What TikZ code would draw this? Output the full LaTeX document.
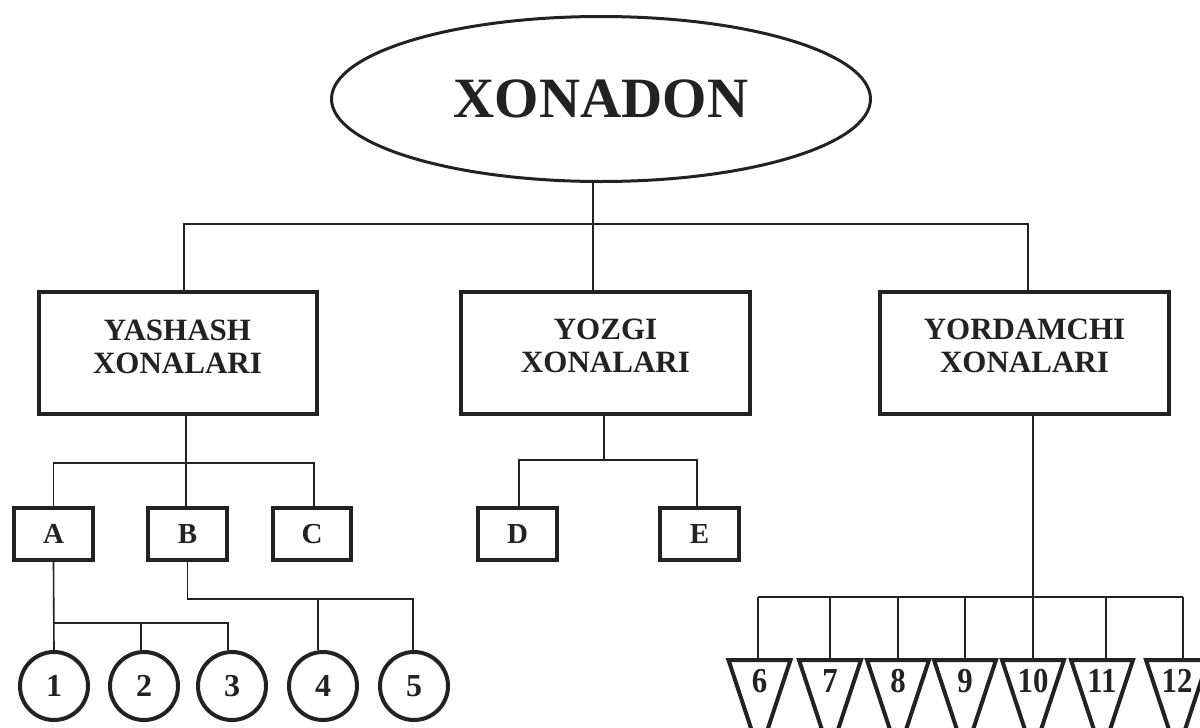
\documentclass[tikz,border=0pt]{standalone}
\usepackage{fontspec}
\usepackage{graphicx}
\setmainfont{Liberation Serif}
\usetikzlibrary{shapes.geometric,calc}
\definecolor{ink}{HTML}{222222}
\begin{document}
\begin{tikzpicture}[x=1pt,y=-1pt,
  conn/.style={draw=ink,line width=1.6pt},
  topnode/.style={ellipse,draw=ink,line width=3pt,minimum width=539pt,minimum height=165pt,inner sep=0pt,text=ink,font=\fontsize{57}{60}\selectfont\bfseries},
  bigbox/.style={rectangle,draw=ink,line width=4pt,minimum height=122pt,inner sep=0pt,align=center,text depth=13pt,text=ink,font=\fontsize{31}{33}\selectfont\bfseries},
  smallbox/.style={rectangle,draw=ink,line width=4pt,minimum width=79pt,minimum height=52pt,inner sep=0pt,text=ink,font=\fontsize{29}{30}\selectfont\bfseries},
  circ/.style={circle,draw=ink,line width=4pt,minimum size=68pt,inner sep=0pt,text=ink,font=\fontsize{32}{33}\selectfont\bfseries},
  tri/.style={draw=ink,line width=4pt,line join=miter},
  tnum/.style={inner sep=0pt,text=ink,font=\fontsize{35}{36}\selectfont\bfseries}]
\clip (0,0) rectangle (1200,728);
\useasboundingbox (0,0) rectangle (1200,728);
\fill[white] (0,0) rectangle (1200,728);

% nodes
\node[topnode] (top) at (601,99) {XONADON};
\node[bigbox,minimum width=278pt] (y1) at (177.5,353) {YASHASH\\XONALARI};
\node[bigbox,minimum width=289pt] (y2) at (605.5,352.5) {YOZGI\\XONALARI};
\node[bigbox,minimum width=289pt] (y3) at (1024.5,352.5) {YORDAMCHI\\XONALARI};

\node[smallbox] (A) at (53.5,534) {A};
\node[smallbox] (B) at (187.5,534) {B};
\node[smallbox,minimum width=78pt] (C) at (312,534) {C};
\node[smallbox] (D) at (517.5,534) {D};
\node[smallbox] (E) at (699.5,534) {E};

\node[circ] (c1) at (54,686) {1};
\node[circ] (c2) at (144,686) {2};
\node[circ] (c3) at (232,686) {3};
\node[circ] (c4) at (323,686) {4};
\node[circ] (c5) at (414,686) {5};

% bus coordinates
\coordinate (b0) at (593,224);
\coordinate (k1) at (184,224);
\coordinate (k3) at (1028,224);
\coordinate (ya) at (186,463);
\coordinate (yz) at (604,460);
\coordinate (ab) at (53.5,623);
\coordinate (bb) at (187.5,599);
\coordinate (yd) at (1033,597);

% top level connectors
\draw[conn] (top.south -| b0) -- (y2.north -| b0);
\draw[conn] (k1 |- y1.north) -- (k1) -- (k3) -- (k3 |- y3.north);

% yashash
\draw[conn] (y1.south -| ya) -- (B.north -| ya);
\draw[conn] (A.north) |- (ya) -| ($(C.north)+(2,0)$);

% yozgi
\draw[conn] (y2.south -| yz) -- (yz);
\draw[conn] ($(D.north)+(1.5,0)$) |- (yz) -| ($(E.north)+(-2.5,0)$);

% A -> circles
\draw[conn] (A.south) -- (c1.north);
\draw[conn] (ab) -| ($(c2.north)+(-3,0)$);
\draw[conn] (ab) -| ($(c3.north)+(-4,0)$);

% B -> circles
\draw[conn] (B.south) -- (bb) -| ($(c5.north)+(-1,0)$);
\draw[conn] (bb) -| ($(c4.north)+(-5,0)$);

% yordamchi
\draw[conn] (y3.south -| yd) -- (yd);
\draw[conn] (758,597) coordinate (bl) -- (1183,597) coordinate (br);
\foreach \i/\x/\cx in {6/759.5/758,7/830/830,8/898/898,9/965/965,10/1033/1033,11/1102/1106,12/1177/1183} {
  \node[tnum] (n\i) at (\x,681) {\scalebox{0.88}[1]{\i}};
  \draw[tri] (\x-31,660) -- (\x+31,660) -- (\x,754) -- cycle;
  \draw[conn] (\cx,597) -- (\cx,660);
}
\end{tikzpicture}
\end{document}
